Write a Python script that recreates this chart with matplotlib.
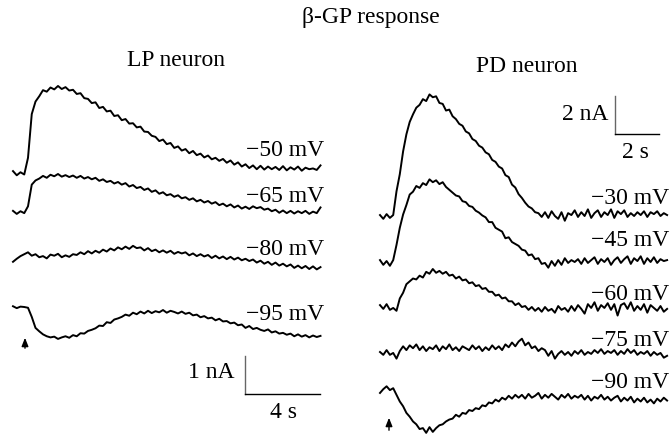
import numpy as np
import matplotlib
matplotlib.use("Agg")
import matplotlib.pyplot as plt

plt.rcParams['font.family'] = ['Liberation Serif', 'DejaVu Serif']

# ---- data (current in nA) ----
lp_dt = 0.2   # s per sample
pd_dt = 0.15

lp_labels = ['−50 mV', '−65 mV', '−80 mV', '−95 mV']
pd_labels = ['−30 mV', '−45 mV', '−60 mV', '−75 mV', '−90 mV']

lp_m50 = [0.05, -0.06, 0.02, -0.04, 0.40, 1.55, 1.88, 2.02, 2.18, 2.14,
          2.25, 2.20, 2.29, 2.21, 2.26, 2.17, 2.19, 2.08, 2.10, 1.97,
          1.95, 1.84, 1.86, 1.71, 1.74, 1.62, 1.64, 1.50, 1.52, 1.39,
          1.42, 1.30, 1.31, 1.20, 1.22, 1.09, 1.08, 0.98, 0.95, 0.84,
          0.88, 0.76, 0.79, 0.66, 0.70, 0.59, 0.63, 0.52, 0.58, 0.47,
          0.51, 0.41, 0.46, 0.36, 0.40, 0.32, 0.37, 0.27, 0.33, 0.22,
          0.28, 0.17, 0.23, 0.13, 0.20, 0.10, 0.19, 0.09, 0.17, 0.10,
          0.16, 0.08, 0.18, 0.07, 0.15, 0.09, 0.17, 0.06, 0.14, 0.10,
          0.12, 0.08, 0.20]
lp_m65 = [0.03, -0.05, 0.02, -0.03, 0.15, 0.72, 0.83, 0.88, 0.95, 0.90,
          0.98, 0.94, 1.00, 0.93, 0.97, 0.92, 0.96, 0.90, 0.95, 0.88,
          0.92, 0.86, 0.90, 0.82, 0.86, 0.79, 0.82, 0.75, 0.79, 0.72,
          0.76, 0.67, 0.71, 0.63, 0.66, 0.58, 0.62, 0.53, 0.57, 0.48,
          0.52, 0.44, 0.47, 0.40, 0.44, 0.36, 0.39, 0.32, 0.36, 0.28,
          0.32, 0.25, 0.29, 0.22, 0.26, 0.18, 0.22, 0.15, 0.20, 0.12,
          0.17, 0.09, 0.14, 0.08, 0.15, 0.10, 0.13, 0.06, 0.09, 0.02,
          0.06, -0.02, 0.04, -0.03, 0.03, -0.04, 0.02, -0.03, 0.03, -0.05,
          0.01, -0.03, 0.12]
lp_m80 = [-0.10, -0.02, 0.05, 0.10, 0.15, 0.06, 0.10, 0.02, 0.05, -0.01,
          0.09, 0.06, 0.11, 0.02, 0.07, 0.03, 0.10, 0.08, 0.15, 0.10,
          0.18, 0.12, 0.19, 0.14, 0.22, 0.17, 0.25, 0.20, 0.28, 0.23,
          0.30, 0.24, 0.32, 0.26, 0.28, 0.20, 0.26, 0.18, 0.22, 0.15,
          0.20, 0.14, 0.19, 0.11, 0.16, 0.12, 0.15, 0.07, 0.12, 0.05,
          0.10, 0.04, 0.08, 0.00, 0.06, -0.01, 0.04, -0.03, 0.03, -0.04,
          0.01, -0.06, -0.02, -0.08, -0.04, -0.12, -0.07, -0.15, -0.10, -0.18,
          -0.12, -0.20, -0.15, -0.22, -0.17, -0.26, -0.20, -0.27, -0.21, -0.29,
          -0.22, -0.30, -0.24]
lp_m95 = [0.02, -0.03, 0.01, 0.00, -0.02, -0.26, -0.55, -0.64, -0.72, -0.77,
          -0.80, -0.78, -0.84, -0.80, -0.77, -0.81, -0.74, -0.77, -0.69, -0.70,
          -0.63, -0.60, -0.56, -0.49, -0.50, -0.40, -0.42, -0.33, -0.30, -0.26,
          -0.20, -0.23, -0.15, -0.19, -0.12, -0.17, -0.10, -0.16, -0.11, -0.14,
          -0.08, -0.15, -0.10, -0.13, -0.17, -0.12, -0.18, -0.15, -0.22, -0.20,
          -0.27, -0.24, -0.30, -0.28, -0.35, -0.31, -0.38, -0.37, -0.43, -0.41,
          -0.48, -0.46, -0.55, -0.50, -0.58, -0.55, -0.60, -0.63, -0.59, -0.67,
          -0.64, -0.70, -0.68, -0.73, -0.70, -0.77, -0.72, -0.78, -0.74, -0.80,
          -0.75, -0.79, -0.76]

pd_m30 = [0.05, -0.15, 0.10, -0.10, 0.05, 1.30, 2.20, 3.40, 4.30, 4.95,
          5.35, 5.70, 5.85, 6.15, 6.05, 6.40, 6.25, 6.30, 5.95, 5.90,
          5.55, 5.60, 5.25, 5.10, 4.85, 4.75, 4.45, 4.35, 4.05, 3.95,
          3.70, 3.60, 3.35, 3.25, 2.95, 2.85, 2.60, 2.50, 2.15, 2.05,
          1.65, 1.50, 1.15, 0.95, 0.70, 0.50, 0.40, 0.20, 0.15, -0.05,
          0.20, -0.10, 0.25, 0.00, -0.15, 0.20, -0.25, 0.15, 0.05, 0.30,
          -0.05, 0.20, 0.00, 0.35, -0.10, 0.15, 0.30, -0.05, 0.20, 0.05,
          0.35, -0.10, 0.25, 0.10, 0.30, -0.05, 0.15, 0.00, 0.20, 0.05,
          0.25, -0.05, 0.20, 0.10, 0.25, 0.00, 0.15, 0.05]
pd_m45 = [0.10, -0.15, 0.05, -0.20, 0.10, 0.90, 1.80, 2.50, 3.00, 3.55,
          3.70, 4.00, 3.90, 4.15, 4.05, 4.35, 4.20, 4.30, 4.10, 4.20,
          3.95, 3.80, 3.65, 3.50, 3.45, 3.20, 3.15, 2.95, 2.90, 2.70,
          2.60, 2.45, 2.35, 2.10, 2.10, 1.80, 1.70, 1.60, 1.25, 1.30,
          1.05, 0.95, 0.85, 0.65, 0.60, 0.35, 0.40, 0.15, 0.20, -0.10,
          -0.05, -0.30, 0.05, -0.20, 0.10, -0.15, 0.20, -0.05, 0.10, 0.00,
          0.15, -0.10, 0.20, -0.05, 0.10, 0.25, -0.10, 0.15, 0.00, 0.20,
          -0.15, 0.10, 0.25, -0.05, 0.15, 0.30, -0.10, 0.20, 0.05, 0.30,
          -0.10, 0.20, 0.00, 0.25, -0.05, 0.15, 0.05, 0.10]
pd_m60 = [0.10, -0.10, 0.15, -0.15, -0.05, -0.20, 0.45, 0.75, 1.20, 1.35,
          1.50, 1.45, 1.65, 1.55, 1.85, 1.75, 2.00, 1.80, 1.90, 1.75,
          1.85, 1.65, 1.70, 1.50, 1.60, 1.40, 1.45, 1.25, 1.30, 1.10,
          1.15, 0.95, 1.00, 0.80, 0.80, 0.60, 0.65, 0.45, 0.50, 0.30,
          0.30, 0.10, 0.20, 0.00, 0.05, -0.15, 0.00, -0.20, -0.05, -0.25,
          0.00, -0.20, -0.10, -0.30, 0.05, -0.15, -0.05, -0.25, 0.05, -0.20,
          0.10, -0.10, -0.35, 0.15, -0.05, 0.25, -0.20, 0.10, -0.05, 0.20,
          -0.15, 0.15, -0.45, 0.10, 0.20, -0.10, 0.25, -0.20, 0.05, -0.15,
          0.15, -0.30, 0.10, -0.05, -0.20, 0.05, -0.25, -0.10]
pd_m75 = [0.00, -0.15, 0.10, -0.15, -0.05, -0.35, 0.05, 0.30, 0.10, 0.35,
          0.20, 0.40, 0.10, 0.30, 0.05, 0.25, 0.15, 0.35, 0.05, 0.30,
          0.15, 0.40, 0.10, 0.25, 0.05, 0.30, 0.20, 0.10, 0.35, 0.15,
          0.30, 0.05, 0.25, 0.10, 0.35, 0.15, 0.30, 0.10, 0.40, 0.25,
          0.50, 0.30, 0.55, 0.70, 0.35, 0.50, 0.20, 0.30, 0.05, 0.20,
          0.10, -0.20, 0.05, -0.35, -0.10, 0.05, -0.15, 0.00, -0.20, 0.05,
          -0.10, 0.10, -0.15, 0.00, -0.10, 0.10, -0.05, 0.15, -0.10, 0.05,
          -0.05, 0.10, -0.15, 0.05, -0.10, 0.15, -0.05, 0.10, -0.15, 0.00,
          -0.10, 0.05, -0.20, 0.00, -0.15, -0.05, -0.30, -0.20]
pd_m90 = [-0.05, 0.15, 0.30, 0.10, 0.20, -0.15, -0.50, -0.75, -1.10, -1.30,
          -1.55, -1.70, -1.95, -1.90, -2.15, -1.85, -2.10, -1.90, -1.75, -1.70,
          -1.55, -1.45, -1.40, -1.20, -1.30, -1.10, -1.15, -0.95, -1.00, -0.85,
          -0.90, -0.70, -0.75, -0.55, -0.60, -0.40, -0.50, -0.30, -0.40, -0.20,
          -0.35, -0.15, -0.30, -0.15, -0.35, -0.10, -0.30, -0.20, -0.05, -0.35,
          -0.15, -0.30, -0.10, -0.25, -0.40, -0.15, -0.30, -0.10, -0.35, -0.20,
          -0.30, -0.15, -0.40, -0.20, -0.45, -0.25, -0.35, -0.15, -0.40, -0.25,
          -0.45, -0.30, -0.20, -0.50, -0.30, -0.45, -0.25, -0.55, -0.35, -0.50,
          -0.30, -0.55, -0.40, -0.60, -0.35, -0.50, -0.30, -0.45]

lp_traces = [lp_m50, lp_m65, lp_m80, lp_m95]
pd_traces = [pd_m30, pd_m45, pd_m60, pd_m75, pd_m90]

# ---- layout (pixels of a 671x437 canvas) ----
W, H = 671, 437
# origin of top trace, px per s, px per nA
lp_x0, lp_y0, lp_sx, lp_sy = 13, 173, 18.75, 38
pd_x0, pd_y0, pd_sx, pd_sy = 380, 216, 22, 19
lp_base = [173, 212, 258, 307]
pd_base = [216, 262, 307, 352, 392]
lp_label_y = [150, 196, 249, 315]
pd_label_y = [198, 240, 295, 340, 383]

fig = plt.figure(figsize=(W / 100, H / 100), dpi=100)


def panel(x0, y0, sx, sy):
    ax = fig.add_axes([0, 0, 1, 1])
    ax.set_xlim(-x0 / sx, (W - x0) / sx)
    ax.set_ylim(-(H - y0) / sy, y0 / sy)
    ax.axis('off')
    ax.patch.set_alpha(0)
    return ax


axL = panel(lp_x0, lp_y0, lp_sx, lp_sy)
axR = panel(pd_x0, pd_y0, pd_sx, pd_sy)

for vals, base in zip(lp_traces, lp_base):
    t = np.arange(len(vals)) * lp_dt
    axL.plot(t, np.array(vals) - (base - lp_y0) / lp_sy, color='black', lw=1.4)
for vals, base in zip(pd_traces, pd_base):
    t = np.arange(len(vals)) * pd_dt
    axR.plot(t, np.array(vals) - (base - pd_y0) / pd_sy, color='black', lw=1.4)

# scale bars
lx, ly = (245 - lp_x0) / lp_sx, -(394 - lp_y0) / lp_sy
axL.plot([lx, lx], [ly, ly + 1], color='#666666', lw=1)
axL.plot([lx, lx + 4], [ly, ly], color='black', lw=1)
rx, ry = (615 - pd_x0) / pd_sx, (pd_y0 - 134) / pd_sy
axR.plot([rx, rx], [ry, ry + 2], color='#666666', lw=1)
axR.plot([rx, rx + 2], [ry, ry], color='black', lw=1)

# stimulus arrows
arrow = dict(arrowstyle='-|>,head_length=0.5,head_width=0.2', color='black', lw=1)
axL.annotate('', xy=((25 - lp_x0) / lp_sx, (lp_y0 - 335) / lp_sy),
             xytext=((25 - lp_x0) / lp_sx, (lp_y0 - 351) / lp_sy), arrowprops=arrow)
axR.annotate('', xy=((389 - pd_x0) / pd_sx, (pd_y0 - 415) / pd_sy),
             xytext=((389 - pd_x0) / pd_sx, (pd_y0 - 433) / pd_sy), arrowprops=arrow)


def txt(x, y, s, ha='center'):
    fig.text(x / W, 1 - y / H, s, ha=ha, va='center', fontsize=17)


txt(371, 18, 'β-GP response')
txt(176, 60, 'LP neuron')
txt(527, 66, 'PD neuron')
for lab, y in zip(lp_labels, lp_label_y):
    txt(324, y, lab, ha='right')
for lab, y in zip(pd_labels, pd_label_y):
    txt(669, y, lab, ha='right')
txt(234, 373, '1 nA', ha='right')
txt(283, 413, '4 s')
txt(608, 115, '2 nA', ha='right')
txt(635, 153, '2 s')

fig.savefig('out.png', dpi=100)
